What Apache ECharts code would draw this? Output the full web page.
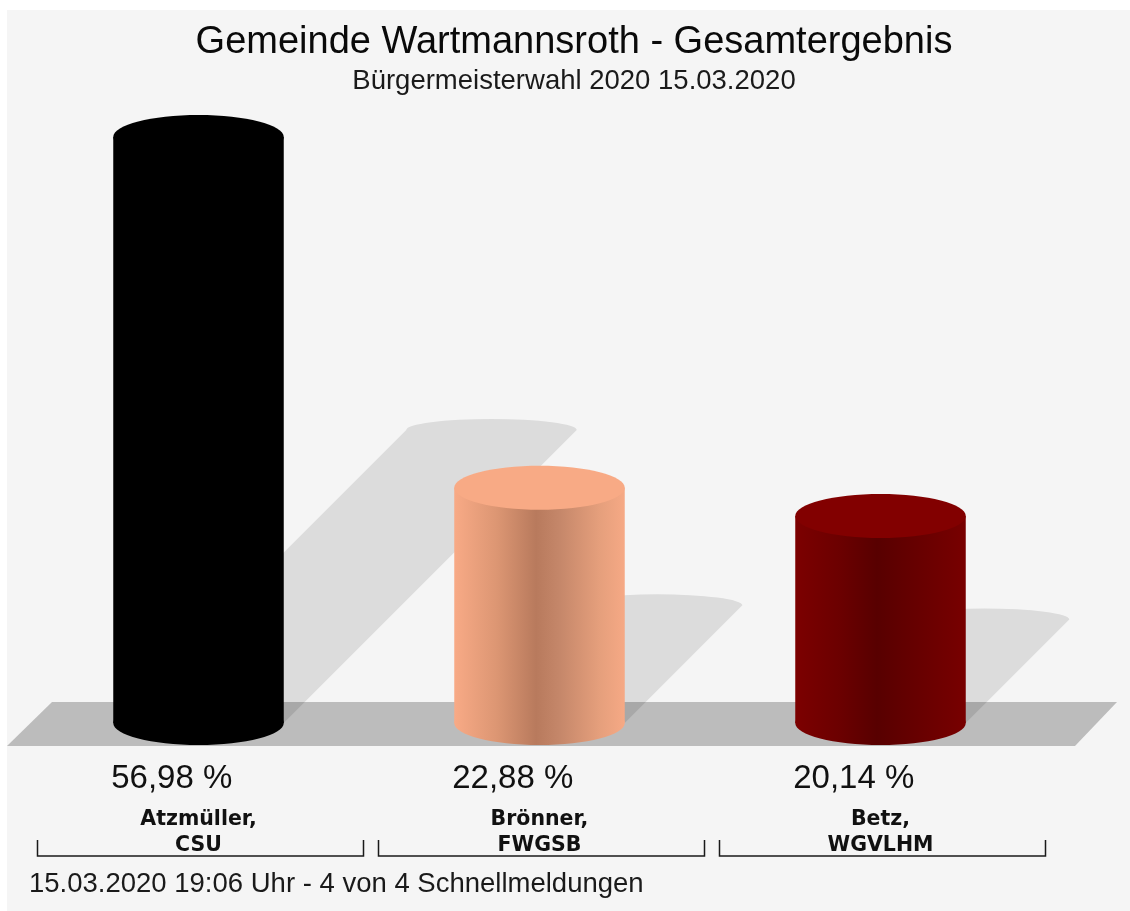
<!DOCTYPE html>
<html>
<head>
<meta charset="utf-8">
<script src="https://cdn.jsdelivr.net/npm/echarts@6/dist/echarts.min.js"></script>
<style>
html,body{margin:0;padding:0;background:#ffffff;}
#bg{position:absolute;left:7px;top:10px;width:1123px;height:901px;background:#f5f5f5;}
#main{position:absolute;left:0;top:0;width:1130px;height:911px;}
</style>
</head>
<body>
<div id="bg"></div>
<div id="main"></div>
<script>
// ---- data ----
const candidates = ['Atzmüller,\nCSU', 'Brönner,\nFWGSB', 'Betz,\nWGVLHM'];
const shares = [56.98, 22.88, 20.14];
const titleText = 'Gemeinde Wartmannsroth - Gesamtergebnis';
const subtitleText = 'Bürgermeisterwahl 2020 15.03.2020';
const footerText = '15.03.2020 19:06 Uhr - 4 von 4 Schnellmeldungen';

// ---- styles ----
const FONT = "'Liberation Sans', Arial, Helvetica, sans-serif";
const FONT_WIDE = "'DejaVu Sans', 'Liberation Sans', Arial, sans-serif";
const barStyles = [
  { side: [[0,'#000000'],[1,'#000000']], top: '#000000' },
  { side: [[0,'#f8aa86'],[0.25,'#dc9673'],[0.48,'#b87a5d'],[0.62,'#c5876a'],[0.85,'#e59f7c'],[1,'#f6a985']], top: '#f8aa85' },
  { side: [[0,'#7c0000'],[0.25,'#6c0000'],[0.48,'#580000'],[0.7,'#660000'],[1,'#780000']], top: '#820000' }
];
const ELL = 22;          // half height of the cylinder ellipses
const SHADOW_RY = 11;

function fmt(v) { return v.toFixed(2).replace('.', ',') + ' %'; }

function renderFloor(params, api) {
  if (params.dataIndex !== 0) return null;
  const cs = params.coordSys;
  const B = api.coord([0, 0])[1];
  const x0 = cs.x, x1 = cs.x + cs.width;
  return {
    type: 'polygon',
    shape: { points: [[x0 - 21, B + 23], [x0 + 24, B - 21], [x1 + 66, B - 21], [x1 + 24, B + 23]] },
    style: { fill: '#bcbcbc' }
  };
}

function renderShadow(params, api) {
  const i = api.value(0), v = api.value(1);
  const base = api.coord([i, 0]), top = api.coord([i, v]);
  const bw = api.size([1, 0])[0] * 0.5;
  const L = base[0] - bw / 2, R = base[0] + bw / 2, B = base[1];
  const d = (B - top[1]) / 2;
  return {
    type: 'path',
    shape: { pathData: `M${L},${B} L${L + d},${B - d} A${bw / 2},${SHADOW_RY} 0 0 1 ${R + d},${B - d} L${R},${B} Z` },
    style: { fill: 'rgba(0,0,0,0.1)' }
  };
}

function renderCylinder(params, api) {
  const i = api.value(0), v = api.value(1);
  const base = api.coord([i, 0]), top = api.coord([i, v]);
  const bw = api.size([1, 0])[0] * 0.5;
  const cx = base[0], L = cx - bw / 2, B = base[1], T = top[1];
  const st = barStyles[i];
  const grad = () => new echarts.graphic.LinearGradient(0, 0, 1, 0, st.side.map(s => ({ offset: s[0], color: s[1] })));
  return {
    type: 'group',
    children: [
      { type: 'ellipse', shape: { cx: cx, cy: B, rx: bw / 2, ry: ELL }, style: { fill: grad() } },
      { type: 'rect', shape: { x: L, y: T, width: bw, height: B - T }, style: { fill: grad() } },
      { type: 'ellipse', shape: { cx: cx, cy: T, rx: bw / 2, ry: ELL }, style: { fill: st.top } },
      { type: 'text', style: { text: fmt(v), x: L - 2, y: B + 56, align: 'left', verticalAlign: 'middle', fill: '#111', fontSize: 33, fontFamily: FONT } }
    ]
  };
}

function renderBracket(params, api) {
  const i = api.value(0);
  const c = api.coord([i, 0]);
  const B = c[1];
  const l = c[0] - 161, r = c[0] + 165;
  const y1 = B + 117, y2 = B + 133;
  return {
    type: 'polyline',
    shape: { points: [[l, y1], [l, y2], [r, y2], [r, y1]] },
    style: { stroke: '#1a1a1a', lineWidth: 1.5, fill: null }
  };
}

const pts = shares.map((v, i) => [i, v]);

const chart = echarts.init(document.getElementById('main'), null, { renderer: 'canvas' });
chart.setOption({
  animation: false,
  backgroundColor: 'transparent',
  title: {
    text: titleText,
    subtext: subtitleText,
    left: 569,
    textAlign: 'center',
    top: 19,
    itemGap: 5,
    textStyle: { fontFamily: FONT, fontSize: 38, fontWeight: 'normal', color: '#0a0a0a' },
    subtextStyle: { fontFamily: FONT, fontSize: 27.5, color: '#1a1a1a' }
  },
  grid: { left: 28, right: 79, top: 106, bottom: 188 },
  xAxis: {
    type: 'category',
    data: candidates,
    axisLine: { show: false },
    axisTick: { show: false },
    axisLabel: {
      margin: 84,
      fontFamily: FONT_WIDE,
      fontSize: 20.5,
      fontWeight: 'bold',
      lineHeight: 26,
      color: '#111'
    }
  },
  yAxis: { type: 'value', min: 0, max: 60, show: false },
  graphic: [
    { type: 'text', left: 29, top: 870, style: { text: footerText, fontFamily: FONT, fontSize: 27.5, fill: '#1a1a1a' } }
  ],
  series: [
    { type: 'custom', name: 'floor', renderItem: renderFloor, data: pts, encode: { x: 0, y: 1 }, z: 1, silent: true },
    { type: 'custom', name: 'shadow', renderItem: renderShadow, data: pts, encode: { x: 0, y: 1 }, z: 2, silent: true },
    { type: 'custom', name: 'Stimmenanteil', renderItem: renderCylinder, data: pts, encode: { x: 0, y: 1 }, z: 3 },
    { type: 'custom', name: 'bracket', renderItem: renderBracket, data: pts, encode: { x: 0, y: 1 }, z: 3, silent: true }
  ]
});
</script>
</body>
</html>
